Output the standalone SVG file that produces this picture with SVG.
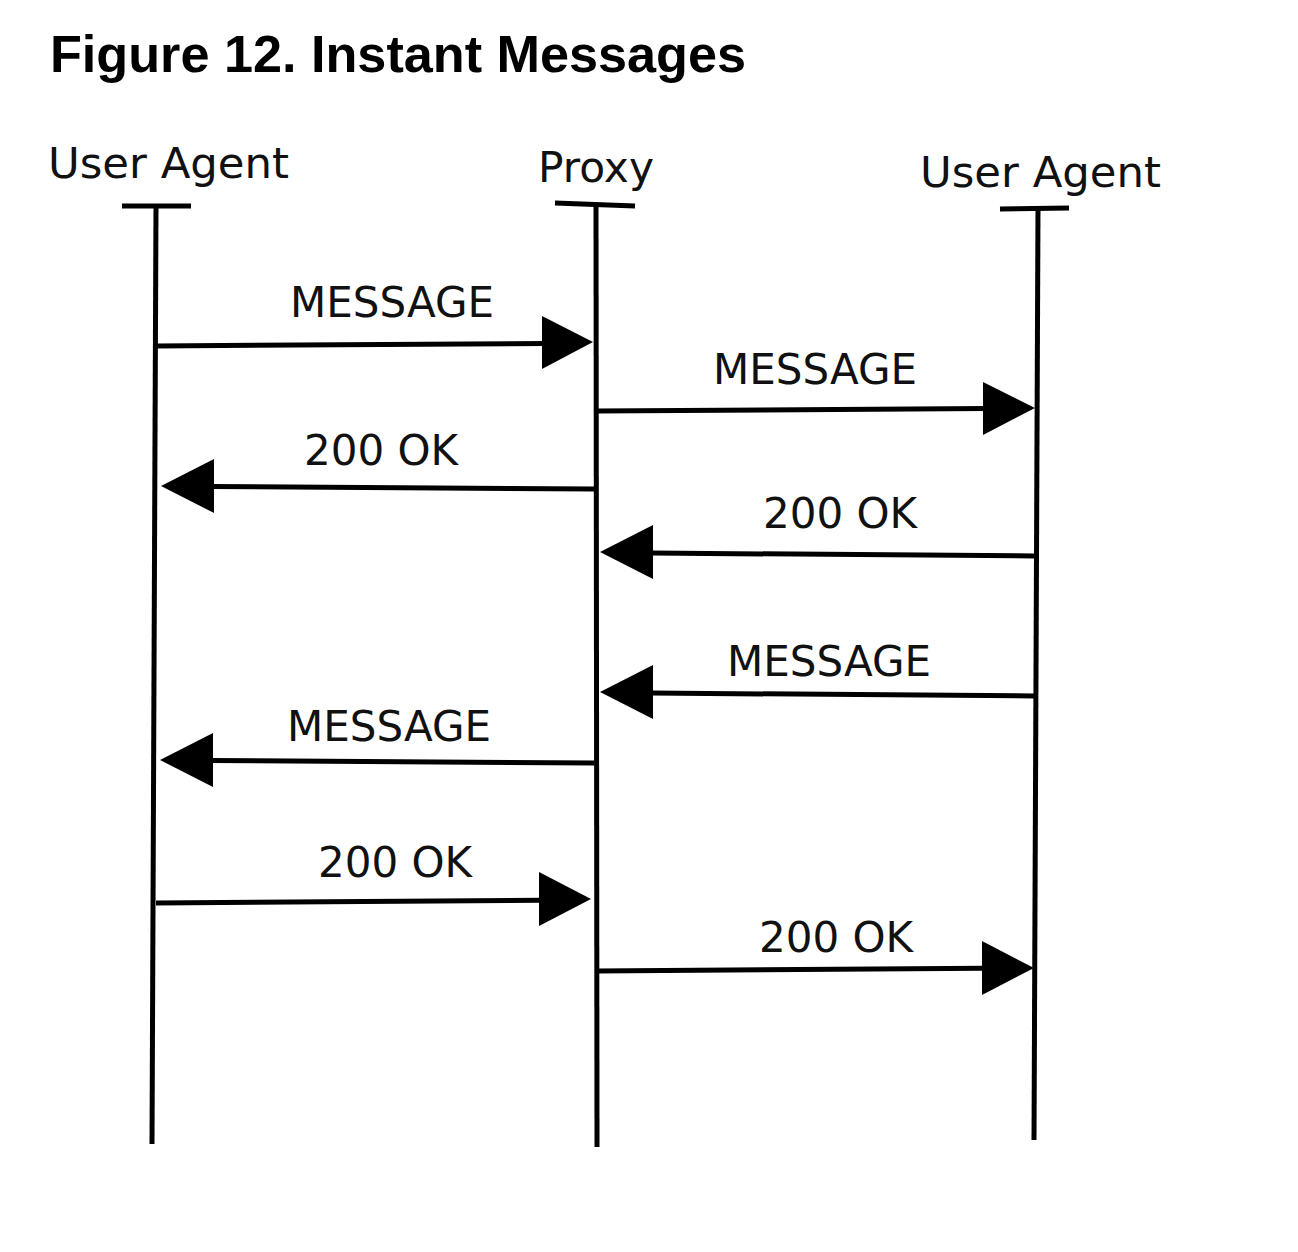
<svg xmlns="http://www.w3.org/2000/svg" width="1298" height="1252" viewBox="0 0 1298 1252">
<style>
.title{font-family:"Liberation Sans",Arial,sans-serif;font-weight:bold;font-size:52px;fill:#000}
.hdr{font-family:"DejaVu Sans",sans-serif;font-size:43px;fill:#111}
.lbl{font-family:"DejaVu Sans",sans-serif;font-size:42px;fill:#111;text-anchor:middle}
.ln{stroke:#000;stroke-width:5;fill:none}
.ah{fill:#000}
</style>
<rect width="1298" height="1252" fill="#fff"/>
<text class="title" x="50" y="72" textLength="696" lengthAdjust="spacingAndGlyphs">Figure 12. Instant Messages</text>
<g id="ua1">
<text class="hdr" x="48" y="178" textLength="241" lengthAdjust="spacingAndGlyphs">User Agent</text>
<line class="ln" x1="122" y1="206" x2="191" y2="206"/>
<line class="ln" x1="156" y1="206" x2="152" y2="1144"/>
</g>
<g id="proxy">
<text class="hdr" x="538" y="182" textLength="116" lengthAdjust="spacingAndGlyphs">Proxy</text>
<line class="ln" x1="555" y1="203" x2="635" y2="206"/>
<line class="ln" x1="596" y1="204" x2="597" y2="1147"/>
</g>
<g id="ua2">
<text class="hdr" x="920" y="187" textLength="241" lengthAdjust="spacingAndGlyphs">User Agent</text>
<line class="ln" x1="1000" y1="209" x2="1069" y2="208"/>
<line class="ln" x1="1038" y1="207" x2="1034" y2="1140"/>
</g>
<g id="connectors">
<text class="lbl" x="392" y="317">MESSAGE</text>
<line class="ln" x1="156" y1="346" x2="546" y2="343.4"/>
<polygon class="ah" points="593,342 542,316 542,369"/>

<text class="lbl" x="815" y="384">MESSAGE</text>
<line class="ln" x1="597" y1="411" x2="986" y2="408.5"/>
<polygon class="ah" points="1035,408 983,382 983,435"/>

<text class="lbl" x="381" y="465">200 OK</text>
<line class="ln" x1="594" y1="489" x2="212" y2="486.5"/>
<polygon class="ah" points="161,486 214,459 214,513"/>

<text class="lbl" x="840" y="528">200 OK</text>
<line class="ln" x1="1034" y1="556" x2="651" y2="553"/>
<polygon class="ah" points="600,552 653,525 653,579"/>

<text class="lbl" x="829" y="676">MESSAGE</text>
<line class="ln" x1="1034" y1="696" x2="651" y2="693"/>
<polygon class="ah" points="600,692 653,665 653,719"/>

<text class="lbl" x="389" y="741">MESSAGE</text>
<line class="ln" x1="594" y1="763" x2="211" y2="760.5"/>
<polygon class="ah" points="160,760 213,733 213,787"/>

<text class="lbl" x="395" y="877">200 OK</text>
<line class="ln" x1="156" y1="903" x2="541" y2="900.3"/>
<polygon class="ah" points="591,899 539,872 539,926"/>

<text class="lbl" x="836" y="952">200 OK</text>
<line class="ln" x1="597" y1="971" x2="984" y2="968.3"/>
<polygon class="ah" points="1034,968 982,941 982,995"/>
</g>
</svg>
